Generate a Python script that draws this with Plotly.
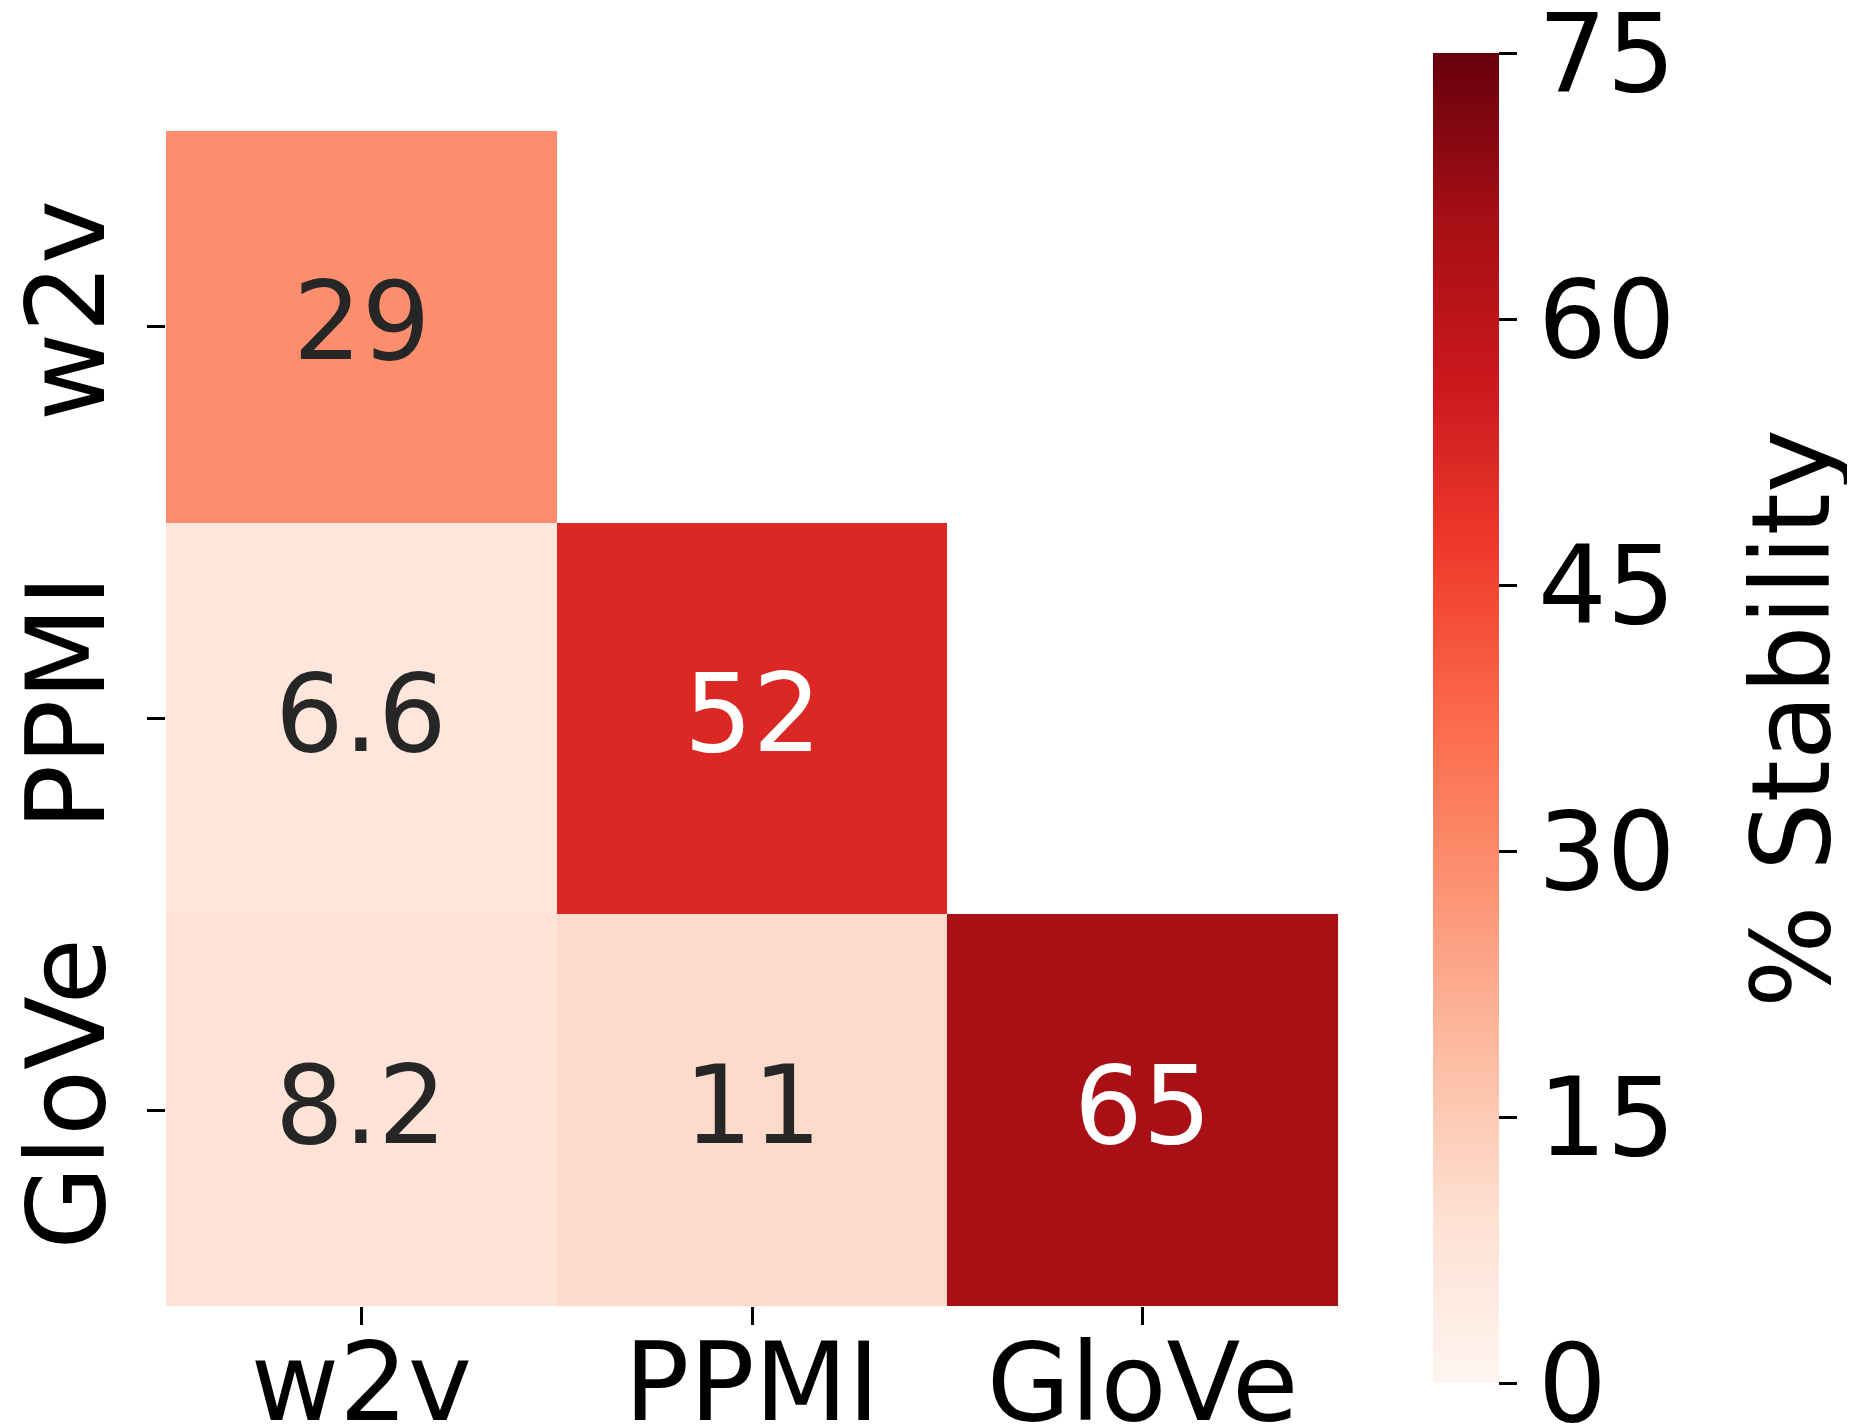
import plotly.graph_objects as go

labels = ["w2v", "PPMI", "GloVe"]
values = [
    [29, None, None],
    [6.6, 52, None],
    [8.2, 11, 65],
]
value_text = [
    ["29", "", ""],
    ["6.6", "52", ""],
    ["8.2", "11", "65"],
]
cbar_ticks = [0, 15, 30, 45, 60, 75]
zmin, zmax = 0, 75
cbar_title = "% Stability"

FONT = "DejaVu Sans"
SIZE = 108

fig = go.Figure()
fig.add_trace(go.Heatmap(
    z=values, x=labels, y=labels,
    colorscale="Reds", zmin=zmin, zmax=zmax,
    hoverongaps=False,
    colorbar=dict(
        x=1.081, xanchor="left", xpad=0, ypad=0,
        y=0.5, yanchor="middle",
        lenmode="pixels", len=1330,
        thickness=66, thicknessmode="pixels",
        outlinewidth=0,
        tickvals=cbar_ticks, ticks="outside", ticklen=18, tickwidth=3,
        tickcolor="black",
        ticklabeloverflow="allow",
        tickfont=dict(family=FONT, size=SIZE, color="black"),
    ),
))

for i, row in enumerate(values):
    for j, v in enumerate(row):
        if v is None:
            continue
        fig.add_annotation(
            x=labels[j], y=labels[i], text=value_text[i][j], showarrow=False,
            yshift=5,
            font=dict(family=FONT, size=SIZE,
                      color="white" if v > 0.5 * zmax else "#262626"),
        )

fig.add_annotation(
    xref="paper", yref="paper", x=1.387, y=0.5, xanchor="center", yanchor="middle",
    text=cbar_title, textangle=-90, showarrow=False,
    font=dict(family=FONT, size=SIZE, color="black"),
)

fig.update_layout(
    width=1855, height=1428,
    margin=dict(l=158, r=525, t=123, b=130, autoexpand=False),
    paper_bgcolor="white", plot_bgcolor="white",
    font=dict(family=FONT, size=SIZE, color="black"),
)
fig.update_xaxes(
    automargin=False,
    showgrid=False, zeroline=False, showline=False,
    ticks="outside", ticklen=18, tickwidth=3, tickcolor="black",
    ticklabelstandoff=-35,
    tickfont=dict(family=FONT, size=SIZE, color="black"),
)
fig.update_yaxes(
    automargin=False,
    autorange="reversed", showgrid=False, zeroline=False, showline=False,
    ticks="outside", ticklen=18, tickwidth=3, tickcolor="black",
    tickangle=-90,
    tickfont=dict(family=FONT, size=SIZE, color="black"),
)

fig.write_html("out.html")
